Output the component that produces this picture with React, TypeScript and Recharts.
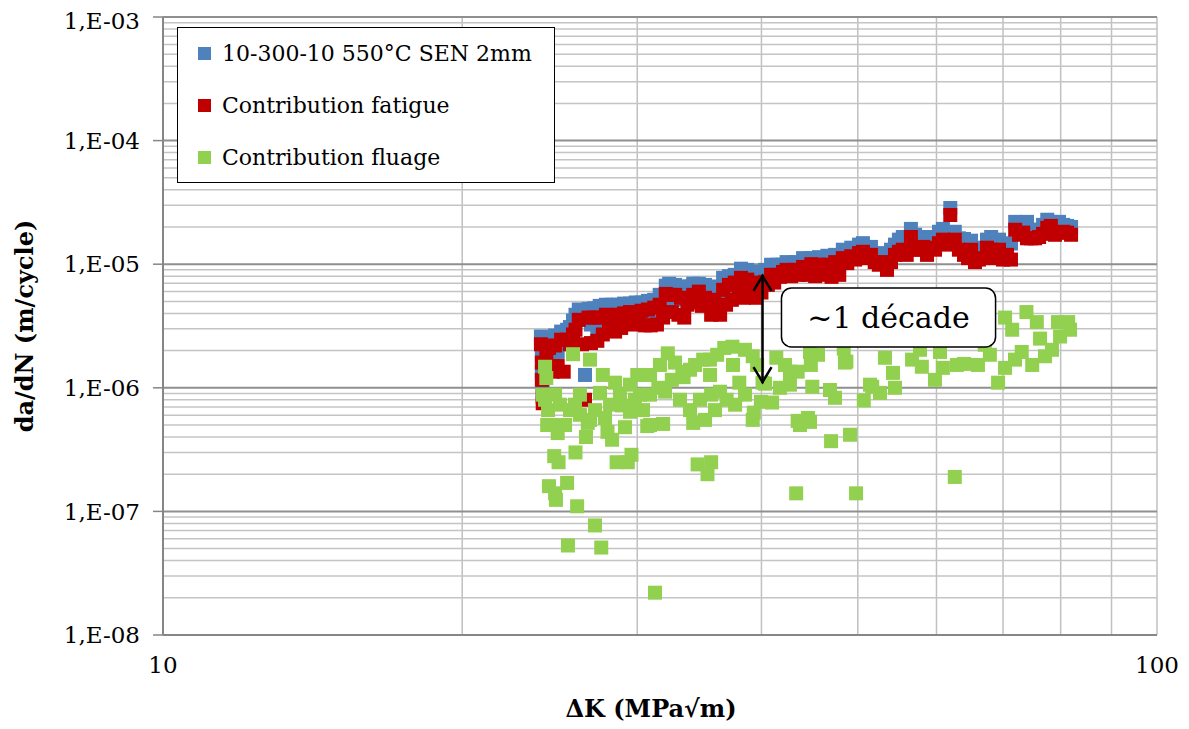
import React from 'react'
import {
  ScatterChart,
  Scatter,
  XAxis,
  YAxis,
  ReferenceLine,
  ReferenceArea
} from 'recharts'

// ΔK (MPa√m) shared by total and fatigue series
const totalK = [
  24.0, 24.05, 24.05, 24.1, 24.1, 24.3, 24.45, 24.65, 24.8, 24.95,
  25.15, 25.3, 25.5, 25.67, 25.85, 26.0, 26.2, 26.4, 26.58, 26.8,
  26.95, 27.15, 27.35, 27.5, 27.7, 27.9, 28.1, 28.3, 28.5, 28.7,
  28.9, 29.1, 29.3, 29.5, 29.7, 29.9, 30.1, 30.3, 30.55, 30.75,
  30.95, 31.2, 31.4, 31.6, 31.85, 32.05, 32.3, 32.5, 32.75, 33.0,
  33.2, 33.45, 33.7, 33.9, 34.15, 34.35, 34.6, 34.85, 35.1, 35.35,
  35.6, 35.85, 36.0, 36.35, 36.6, 36.85, 37.1, 37.35, 37.6, 37.95,
  38.15, 38.4, 38.7, 38.95, 39.25, 39.5, 39.75, 40.0, 40.35, 40.6,
  40.9, 41.2, 41.5, 41.75, 42.05, 42.4, 42.85, 43.2, 43.65, 44.05,
  44.5, 44.9, 45.3, 45.7, 46.15, 46.6, 47.05, 47.45, 47.9, 48.3,
  48.8, 49.25, 49.7, 50.15, 50.6, 51.1, 51.55, 52.0, 52.5, 53.0,
  53.5, 54.0, 54.5, 55.0, 55.5, 56.0, 56.55, 57.1, 57.6, 58.15,
  58.7, 59.25, 59.8, 60.35, 60.9, 61.5, 61.95, 62.6, 63.2, 63.95,
  64.55, 65.0, 65.6, 66.2, 66.8, 67.45, 68.1, 68.7, 69.35, 70.0,
  70.65, 71.3, 72.0, 72.65, 73.35, 74.0, 74.7, 75.4, 76.1, 76.8,
  77.55, 78.2, 78.95, 79.7, 80.45, 81.2, 81.95
]

// da/dN total, 10-300-10 550°C SEN 2mm
const totalRate = [
  2.6e-6, 1.85e-6, 1.35e-6, 1.0e-6, 8.3e-7, 2.25e-6, 2.55e-6, 1.7e-6, 2.65e-6, 1.95e-6,
  2.85e-6, 2.25e-6, 2.95e-6, 3.1e-6, 3.5e-6, 3.9e-6, 4.3e-6, 3.55e-6, 1.27e-6, 4.35e-6,
  3.25e-6, 4.4e-6, 2.95e-6, 4.6e-6, 3.55e-6, 4.7e-6, 3.8e-6, 4.7e-6, 3.4e-6, 4.7e-6,
  3.55e-6, 4.8e-6, 3.9e-6, 4.8e-6, 3.7e-6, 4.9e-6, 3.9e-6, 4.9e-6, 3.7e-6, 5.05e-6,
  3.55e-6, 5.15e-6, 3.7e-6, 5.65e-6, 4.7e-6, 6.7e-6, 6.95e-6, 5.15e-6, 6.8e-6, 5.3e-6,
  6.6e-6, 5.15e-6, 5.95e-6, 6.6e-6, 6.95e-6, 5.65e-6, 6.95e-6, 6.2e-6, 6.8e-6, 5.55e-6,
  6.45e-6, 6.2e-6, 6.6e-6, 5.15e-6, 7.75e-6, 5.95e-6, 8.0e-6, 6.8e-6, 8.2e-6, 7.2e-6,
  9.2e-6, 6.8e-6, 9.0e-6, 7.2e-6, 8.65e-6, 7.75e-6, 8.65e-6, 7.5e-6, 9.0e-6, 8.0e-6,
  9.9e-6, 8.0e-6, 9.9e-6, 9.0e-6, 9.9e-6, 1.04e-5, 9.0e-6, 1.04e-5, 9.3e-6, 1.12e-5,
  9.7e-6, 1.12e-5, 9.9e-6, 1.14e-5, 1.04e-5, 1.17e-5, 9.9e-6, 1.19e-5, 1.04e-5, 1.31e-5,
  1.19e-5, 1.36e-5, 1.26e-5, 1.44e-5, 1.48e-5, 1.31e-5, 1.38e-5, 1.21e-5, 1.09e-5, 1.23e-5,
  1.04e-5, 1.31e-5, 1.44e-5, 1.58e-5, 1.66e-5, 1.44e-5, 1.93e-5, 1.73e-5, 1.58e-5, 1.66e-5,
  1.58e-5, 1.66e-5, 1.58e-5, 1.83e-5, 1.93e-5, 1.73e-5, 2.85e-5, 1.83e-5, 1.62e-5, 1.6e-5,
  1.47e-5, 1.55e-5, 1.31e-5, 1.36e-5, 1.33e-5, 1.58e-5, 1.66e-5, 1.44e-5, 1.58e-5, 1.47e-5,
  1.42e-5, 1.47e-5, 2.2e-5, 2.08e-5, 2.0e-5, 2.2e-5, 1.9e-5, 1.83e-5, 1.9e-5, 2.08e-5,
  2.29e-5, 2.2e-5, 1.97e-5, 2.2e-5, 2.08e-5, 2.04e-5, 2.0e-5
]

// da/dN, contribution fatigue
const fatigueRate = [
  2.25e-6, 1.6e-6, 1.16e-6, 8.6e-7, 7.5e-7, 1.85e-6, 2.1e-6, 1.35e-6, 2.2e-6, 1.5e-6,
  2.45e-6, 1.35e-6, 2.45e-6, 2.25e-6, 2.7e-6, 2.95e-6, 3.55e-6, 2.25e-6, 8.0e-7, 3.7e-6,
  2.3e-6, 3.7e-6, 2.4e-6, 3.7e-6, 2.7e-6, 3.9e-6, 2.95e-6, 3.75e-6, 2.85e-6, 3.9e-6,
  3.05e-6, 4.0e-6, 3.35e-6, 4.1e-6, 3.25e-6, 4.05e-6, 3.35e-6, 4.2e-6, 3.2e-6, 4.3e-6,
  3.2e-6, 4.45e-6, 3.25e-6, 4.7e-6, 3.7e-6, 5.75e-6, 5.65e-6, 4.1e-6, 5.65e-6, 3.9e-6,
  5.35e-6, 3.7e-6, 4.7e-6, 5.15e-6, 5.65e-6, 4.9e-6, 6.0e-6, 4.6e-6, 5.35e-6, 4.7e-6,
  3.9e-6, 5.15e-6, 4.3e-6, 3.9e-6, 6.2e-6, 4.7e-6, 6.8e-6, 5.15e-6, 7.1e-6, 5.9e-6,
  7.75e-6, 5.35e-6, 7.5e-6, 5.95e-6, 7.1e-6, 5.35e-6, 6.8e-6, 5.9e-6, 7.2e-6, 6.8e-6,
  8.2e-6, 7.1e-6, 8.2e-6, 7.9e-6, 8.65e-6, 9.0e-6, 8.0e-6, 9.0e-6, 8.2e-6, 9.5e-6,
  8.2e-6, 1.0e-5, 8.0e-6, 9.9e-6, 8.2e-6, 9.9e-6, 7.9e-6, 1.04e-5, 8.2e-6, 1.12e-5,
  1.02e-5, 1.16e-5, 1.09e-5, 1.23e-5, 1.26e-5, 1.12e-5, 1.19e-5, 1.04e-5, 9.9e-6, 1.04e-5,
  9.0e-6, 1.04e-5, 1.19e-5, 1.26e-5, 1.31e-5, 1.19e-5, 1.66e-5, 1.31e-5, 1.31e-5, 1.38e-5,
  1.19e-5, 1.36e-5, 1.31e-5, 1.48e-5, 1.58e-5, 1.44e-5, 2.5e-5, 1.58e-5, 1.31e-5, 1.19e-5,
  1.12e-5, 1.31e-5, 1.04e-5, 1.09e-5, 1.12e-5, 1.36e-5, 1.31e-5, 1.12e-5, 1.31e-5, 1.09e-5,
  1.19e-5, 1.09e-5, 1.9e-5, 1.73e-5, 1.8e-5, 1.62e-5, 1.62e-5, 1.62e-5, 1.66e-5, 1.76e-5,
  1.97e-5, 2.04e-5, 1.73e-5, 1.8e-5, 1.83e-5, 1.8e-5, 1.73e-5
]

// contribution fluage
const creepK = [
  24.23, 24.3, 24.23, 24.1, 24.8, 25.08, 24.4, 25.67, 26.27, 26.89,
  24.35, 24.9, 25.38, 24.95, 26.75, 26.64, 28.0, 28.3, 29.16, 30.7,
  31.85, 34.15, 35.1, 39.2, 43.73, 44.76, 49.11, 47.0, 24.75, 25.0,
  26.0, 28.6, 29.35, 29.6, 34.5, 35.6, 35.3, 24.45, 24.8, 24.85,
  25.5, 26.1, 43.35, 49.8, 62.6, 27.2, 25.55, 27.6, 31.26, 25.85,
  26.89, 32.2, 32.74, 34.95, 36.7, 37.4, 37.45, 39.2, 38.0, 40.1,
  39.95, 39.3, 27.7, 28.5, 27.52, 30.0, 30.9, 31.5, 33.4, 32.0,
  28.95, 29.5, 30.4, 30.9, 35.6, 36.34, 36.9, 26.27, 25.97, 27.2,
  27.84, 28.82, 30.19, 33.12, 33.9, 34.69, 35.92, 37.63, 38.51, 31.62,
  33.9, 35.51, 29.5, 40.33, 41.4, 42.24, 42.73, 44.76, 44.85, 48.4,
  48.54, 45.0, 41.75, 42.73, 41.0, 46.88, 47.43, 50.7, 51.44, 52.64,
  53.25, 54.25, 54.5, 56.7, 58.0, 59.79, 57.75, 60.49, 63.95, 66.05,
  70.33, 69.2, 71.97, 43.5, 44.55, 70.33, 71.5, 73.9, 75.7, 79.5,
  81.4, 76.27, 79.89, 73.1, 74.9, 77.15, 78.4, 81.76, 62.9, 60.9,
  51.7, 48.7, 45.6, 43.5, 39.6, 38.5, 36.1, 35.5, 34.3, 33.3,
  32.5, 30.9, 29.84, 28.17, 67.1, 67.9
]

const creepRate = [
  1.48e-6, 1.2e-6, 8.0e-7, 8.8e-7, 8.8e-7, 7.3e-7, 6.6e-7, 6.6e-7, 6.05e-7, 5.5e-7,
  5.0e-7, 5.0e-7, 5.0e-7, 4.3e-7, 5.2e-7, 4.0e-7, 4.4e-7, 3.8e-7, 4.8e-7, 4.9e-7,
  5.1e-7, 5.2e-7, 5.5e-7, 5.5e-7, 5.0e-7, 5.3e-7, 4.17e-7, 3.7e-7, 2.8e-7, 2.5e-7,
  3.0e-7, 2.5e-7, 2.5e-7, 2.87e-7, 2.4e-7, 2.5e-7, 2.0e-7, 1.6e-7, 1.4e-7, 1.24e-7,
  1.7e-7, 1.1e-7, 1.4e-7, 1.4e-7, 1.9e-7, 7.7e-8, 5.3e-8, 5.1e-8, 2.2e-8, 1.87e-6,
  1.69e-6, 1.9e-6, 1.6e-6, 1.69e-6, 2.1e-6, 2.15e-6, 1.53e-6, 1.8e-6, 1.1e-6, 1.1e-6,
  7.7e-7, 6.3e-7, 1.27e-6, 1.1e-6, 9.1e-7, 1.27e-6, 1.27e-6, 1.0e-6, 1.22e-6, 9.3e-7,
  7.2e-7, 6.4e-7, 6.6e-7, 5.0e-7, 8.8e-7, 9.3e-7, 8.0e-7, 8.8e-7, 7.3e-7, 6.6e-7,
  5.7e-7, 8.8e-7, 8.8e-7, 8.0e-7, 6.6e-7, 8.0e-7, 6.6e-7, 7.3e-7, 8.8e-7, 1.53e-6,
  1.4e-6, 1.27e-6, 1.06e-6, 1.08e-6, 1.75e-6, 1.53e-6, 1.35e-6, 1.95e-6, 1.53e-6, 2.07e-6,
  1.6e-6, 1.02e-6, 1.0e-6, 1.06e-6, 7.6e-7, 9.6e-7, 8.3e-7, 7.9e-7, 1.06e-6, 9.1e-7,
  1.75e-6, 1.32e-6, 1.0e-6, 1.69e-6, 1.48e-6, 1.16e-6, 2.03e-6, 1.95e-6, 1.56e-6, 1.53e-6,
  1.45e-6, 1.1e-6, 1.69e-6, 5.4e-7, 5.7e-7, 3.7e-6, 2.95e-6, 4.1e-6, 3.4e-6, 3.4e-6,
  3.4e-6, 2.5e-6, 2.6e-6, 1.95e-6, 1.53e-6, 1.8e-6, 2.03e-6, 2.95e-6, 1.53e-6, 1.45e-6,
  1.02e-6, 1.63e-6, 1.85e-6, 1.35e-6, 1.53e-6, 2.03e-6, 1.85e-6, 1.69e-6, 1.53e-6, 1.35e-6,
  1.16e-6, 8.8e-7, 8.0e-7, 7.3e-7, 2.23e-6, 1.85e-6
]

const xTicks = [10, 100]
const yTicks = [1e-8, 1e-7, 1e-6, 1e-5, 1e-4, 1e-3]
const xMinor = [20, 30, 40, 50, 60, 70, 80, 90, 100]
const yMajor = [1e-7, 1e-6, 1e-5, 1e-4, 1e-3]
const yMinor = yTicks.slice(0, -1).flatMap(d => [2, 3, 4, 5, 6, 7, 8, 9].map(m => m * d))

const series = [
  { name: '10-300-10 550°C SEN 2mm', color: '#4f81bd' },
  { name: 'Contribution fatigue', color: '#c00000' },
  { name: 'Contribution fluage', color: '#92d050' }
]

const FONT = '"DejaVu Serif", serif'

const totalData = totalK.map((k, i) => ({ x: k, y: totalRate[i] }))
const fatigueData = totalK.map((k, i) => ({ x: k, y: fatigueRate[i] }))
const creepData = creepK.map((k, i) => ({ x: k, y: creepRate[i] }))

const square = (fill: string) => (p: any) => (
  <rect x={p.cx - 7} y={p.cy - 7} width={14} height={14} fill={fill} />
)

const expLabel = (v: number) => '1,E-' + String(Math.round(-Math.log10(v))).padStart(2, '0')

const DoubleArrow = (p: any) => {
  const x = p.x1
  const top = Math.min(p.y1, p.y2)
  const bot = Math.max(p.y1, p.y2)
  return (
    <g stroke="#000" strokeWidth={2.5} fill="none">
      <line x1={x} y1={top} x2={x} y2={bot} />
      <polyline points={`${x - 9},${top + 16} ${x},${top + 1} ${x + 9},${top + 16}`} />
      <polyline points={`${x - 9},${bot - 16} ${x},${bot - 1} ${x + 9},${bot - 16}`} />
    </g>
  )
}

const RoundBox = (p: any) => (
  <rect
    x={p.x}
    y={p.y}
    width={p.width}
    height={p.height}
    rx={10}
    fill="#fff"
    stroke="#000"
    strokeWidth={1.5}
  />
)

const App: React.FC = () => {
  return (
    <div style={{ position: 'relative', width: 1173, height: 713, fontFamily: FONT }}>
      <ScatterChart
        width={1173}
        height={713}
        margin={{ top: 9, right: 24, bottom: 0, left: 0 }}
      >
        {xMinor.map(v => (
          <ReferenceLine key={'vx' + v} x={v} stroke="#c0c0c0" strokeWidth={1.5} />
        ))}
        {yMinor.map(v => (
          <ReferenceLine key={'hy' + v} y={v} stroke="#c4c4c4" strokeWidth={1.5} />
        ))}
        {yMajor.map(v => (
          <ReferenceLine key={'my' + v} y={v} stroke="#8f8f8f" strokeWidth={2} />
        ))}
        <XAxis
          type="number"
          dataKey="x"
          scale="log"
          domain={[10, 100]}
          ticks={xTicks}
          allowDataOverflow
          height={86}
          tickLine={false}
          tickMargin={16}
          axisLine={{ stroke: '#868686', strokeWidth: 2 }}
          tick={{ fontSize: 23, fill: '#000', fontFamily: FONT }}
          label={(props: any) => {
            const vb = props.viewBox
            return (
              <text
                x={vb.x + vb.width / 2 - 9}
                y={vb.y + 73}
                textAnchor="middle"
                dominantBaseline="central"
                fontSize={24}
                fontWeight="bold"
                fontFamily={FONT}
                fill="#000"
              >
                ΔK (MPa√m)
              </text>
            )
          }}
        />
        <YAxis
          type="number"
          dataKey="y"
          scale="log"
          domain={[1e-8, 1e-3]}
          ticks={yTicks}
          allowDataOverflow
          width={155}
          tickSize={10}
          tickMargin={13}
          tickFormatter={expLabel}
          tickLine={{ stroke: '#868686', strokeWidth: 1.5 }}
          axisLine={{ stroke: '#868686', strokeWidth: 2 }}
          tick={{ fontSize: 23, fill: '#000', fontFamily: FONT }}
          label={(props: any) => {
            const vb = props.viewBox
            const cx = 16
            const cy = vb.y + vb.height / 2
            return (
              <text
                x={cx}
                y={cy}
                transform={`rotate(-90, ${cx}, ${cy})`}
                textAnchor="middle"
                dominantBaseline="central"
                fontSize={24}
                fontWeight="bold"
                fontFamily={FONT}
                fill="#000"
              >
                da/dN (m/cycle)
              </text>
            )
          }}
        />
        <Scatter
          name={series[0].name}
          data={totalData}
          shape={square(series[0].color)}
          isAnimationActive={false}
        />
        <Scatter
          name={series[1].name}
          data={fatigueData}
          shape={square(series[1].color)}
          isAnimationActive={false}
        />
        <Scatter
          name={series[2].name}
          data={creepData}
          shape={square(series[2].color)}
          isAnimationActive={false}
        />
        <ReferenceLine
          segment={[{ x: 40.1, y: 8.2e-6 }, { x: 40.1, y: 1.09e-6 }]}
          shape={DoubleArrow}
          zIndex={800}
        />
        <ReferenceArea
          x1={41.9}
          x2={68.8}
          y1={2.14e-6}
          y2={6.41e-6}
          shape={RoundBox}
          zIndex={800}
          label={{ value: '~1 décade', position: 'center', fill: '#000', fontSize: 30, fontFamily: FONT }}
        />
      </ScatterChart>
      <div
        style={{
          position: 'absolute',
          left: 169,
          top: 19,
          width: 376,
          height: 154,
          border: '1.5px solid #000',
          background: '#fff',
          fontSize: 22,
          color: '#000'
        }}
      >
        {series.map((s, i) => (
          <div
            key={s.name}
            style={{
              position: 'absolute',
              left: 20,
              top: 25 + i * 52 - 14,
              height: 28,
              display: 'flex',
              alignItems: 'center',
              whiteSpace: 'nowrap'
            }}
          >
            <span style={{ display: 'inline-block', width: 13, height: 13, background: s.color, marginRight: 11 }} />
            <span>{s.name}</span>
          </div>
        ))}
      </div>
    </div>
  )
}

export default App
